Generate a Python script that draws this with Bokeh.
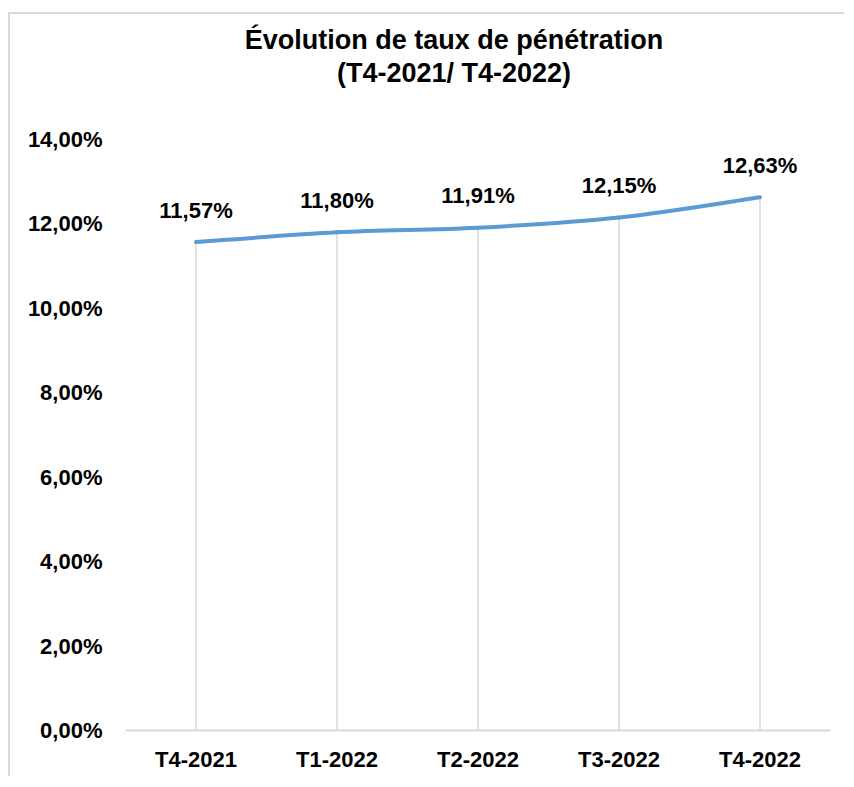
from bokeh.plotting import figure
from bokeh.models import ColumnDataSource, Range1d, FixedTicker, LabelSet, Label, CustomJSTickFormatter
from bokeh.core.properties import value
from bokeh.embed import file_html
from bokeh.resources import INLINE

categories = ["T4-2021", "T1-2022", "T2-2022", "T3-2022", "T4-2022"]
rates = [11.57, 11.80, 11.91, 12.15, 12.63]
rate_labels = ["11,57%", "11,80%", "11,91%", "12,15%", "12,63%"]
y_ticks = [0, 2, 4, 6, 8, 10, 12, 14]
title_lines = ["Évolution de taux de pénétration", "(T4-2021/ T4-2022)"]

FONT = "Liberation Sans"
LINE_COLOR = "#5B9BD5"
GRID_COLOR = "#D9D9D9"

# layout (pixels)
AXIS_TOP = 14            # top value of the value axis
DATA_PX = 591            # pixels from 0 % to 14 %
TITLE_PAD_PX = 125       # room above 14 % for the title
px_per_unit = DATA_PX / AXIS_TOP
y_end = AXIS_TOP + TITLE_PAD_PX / px_per_unit

xs = [i + 0.5 for i in range(len(categories))]

p = figure(width=836, height=764, output_backend="svg", toolbar_location=None,
           x_range=Range1d(0, len(categories)), y_range=Range1d(0, y_end),
           min_border_left=115, min_border_right=16, min_border_top=0, min_border_bottom=48)
p.outline_line_color = None
p.xgrid.grid_line_color = None
p.ygrid.grid_line_color = None
p.styles = {"border-top": "2px solid #D9D9D9", "border-left": "2px solid #D9D9D9",
            "margin-top": "12px", "margin-left": "8px"}

# title (two lines)
for line, dy_px in zip(title_lines, [100, 67]):
    p.add_layout(Label(x=2.33, y=AXIS_TOP + dy_px / px_per_unit, text=line,
                       text_align="center", text_baseline="middle", text_font=FONT,
                       text_font_style="bold", text_font_size="27px", text_color="#000000"))

# drop lines
p.segment(x0=xs, y0=[0] * len(xs), x1=xs, y1=rates, line_color=GRID_COLOR, line_width=1.5)

# smoothed line (Catmull-Rom -> cubic bezier), derived from the data points
n = len(xs)
bx0, by0, bx1, by1, c0x, c0y, c1x, c1y = [], [], [], [], [], [], [], []
for i in range(n - 1):
    xa, ya = xs[i], rates[i]
    xb, yb = xs[i + 1], rates[i + 1]
    xp, yp = (xs[i - 1], rates[i - 1]) if i > 0 else (xa, ya)
    xn, yn = (xs[i + 2], rates[i + 2]) if i + 2 < n else (xb, yb)
    t = 6.0
    bx0.append(xa); by0.append(ya); bx1.append(xb); by1.append(yb)
    c0x.append(xa + (xb - xp) / t); c0y.append(ya + (yb - yp) / t)
    c1x.append(xb - (xn - xa) / t); c1y.append(yb - (yn - ya) / t)
p.bezier(x0=bx0, y0=by0, x1=bx1, y1=by1, cx0=c0x, cy0=c0y, cx1=c1x, cy1=c1y,
         line_color=LINE_COLOR, line_width=4, line_cap="round")

src = ColumnDataSource(dict(x=xs, y=rates, t=rate_labels))
labels = LabelSet(x="x", y="y", text="t", source=src, text_align="center", text_baseline="middle",
                  y_offset=32, text_font=value(FONT), text_font_style="bold", text_font_size="22px",
                  text_color="#000000")
p.add_layout(labels)

# axes
p.xaxis.ticker = FixedTicker(ticks=xs)
p.xaxis.major_label_overrides = {x: c for x, c in zip(xs, categories)}
p.xaxis.axis_line_color = GRID_COLOR
p.xaxis.axis_line_width = 2
p.xaxis.major_tick_line_color = None
p.xaxis.minor_tick_line_color = None
p.xaxis.major_label_standoff = 10
p.xaxis.major_label_text_font = FONT
p.xaxis.major_label_text_font_style = "bold"
p.xaxis.major_label_text_font_size = "22px"
p.xaxis.major_label_text_color = "#000000"

p.yaxis.ticker = FixedTicker(ticks=y_ticks)
p.yaxis.formatter = CustomJSTickFormatter(code="return tick.toFixed(2).replace('.', ',') + '%';")
p.yaxis.axis_line_color = None
p.yaxis.major_tick_line_color = None
p.yaxis.minor_tick_line_color = None
p.yaxis.major_label_standoff = 17
p.yaxis.major_label_text_font = FONT
p.yaxis.major_label_text_font_style = "bold"
p.yaxis.major_label_text_font_size = "22px"
p.yaxis.major_label_text_color = "#000000"

open("out.html", "w").write(file_html(p, INLINE))
